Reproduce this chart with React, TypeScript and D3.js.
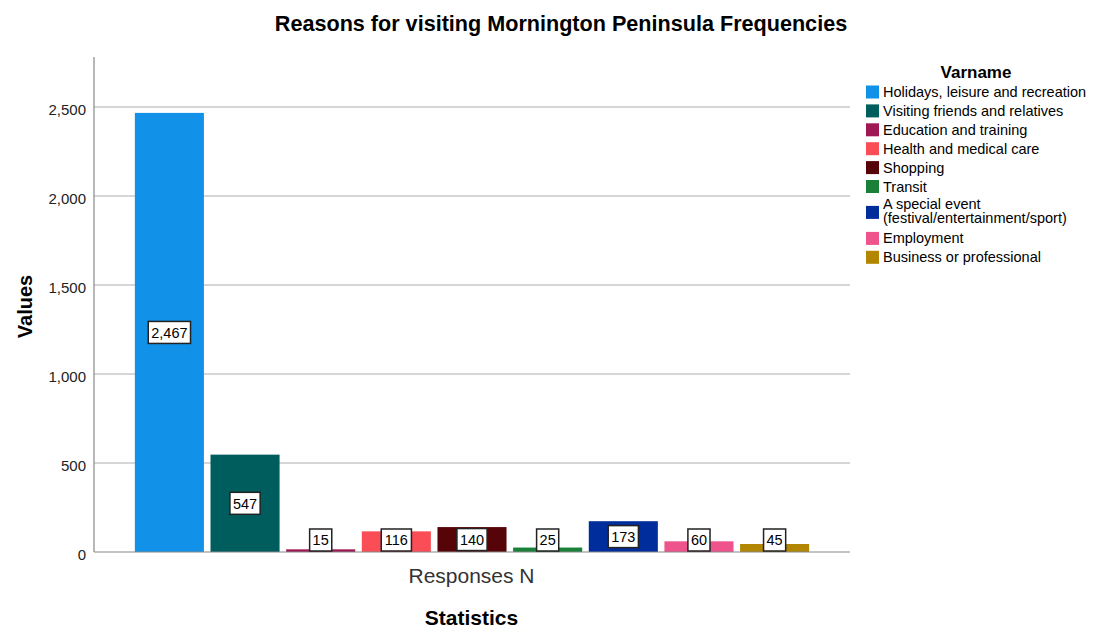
import React from "react";
import * as d3 from "d3";

const categories = [
  "Holidays, leisure and recreation",
  "Visiting friends and relatives",
  "Education and training",
  "Health and medical care",
  "Shopping",
  "Transit",
  "A special event (festival/entertainment/sport)",
  "Employment",
  "Business or professional",
];
const legendLines = [
  ["Holidays, leisure and recreation"],
  ["Visiting friends and relatives"],
  ["Education and training"],
  ["Health and medical care"],
  ["Shopping"],
  ["Transit"],
  ["A special event", "(festival/entertainment/sport)"],
  ["Employment"],
  ["Business or professional"],
];
const values = [2467, 547, 15, 116, 140, 25, 173, 60, 45];
const colors = ["#1192e8", "#005d5d", "#9f1853", "#fa4d56", "#570408", "#198038", "#002d9c", "#ee538b", "#b28600"];
const yTicks = [0, 500, 1000, 1500, 2000, 2500];

const FONT = "'Liberation Sans', Arial, sans-serif";

export default function App() {
  const W = 1094, H = 630;
  const left = 94, right = 850, top = 57, bottom = 552;
  const y = d3.scaleLinear().domain([0, 2781]).range([bottom, top]);
  const x = d3.scaleBand<string>().domain(categories).range([left, right]).paddingInner(0.087).paddingOuter(0.54);
  const fmt = d3.format(",");

  const rowCenters: number[] = [];
  let ly = 92;
  legendLines.forEach((lines) => {
    rowCenters.push(ly);
    ly += lines.length === 1 ? 18.9 : 33;
  });

  const textW = (s: string) => s.split("").reduce((a, ch) => a + (ch === "," ? 4.03 : 8.06), 0);

  return (
    <svg width={W} height={H} style={{ position: "absolute", left: 0, top: 0, fontFamily: FONT }}>
      <rect x={0} y={0} width={W} height={H} fill="#fff" />
      <text x={561} y={31} textAnchor="middle" fontSize={21.6} fontWeight="bold" fill="#000">
        Reasons for visiting Mornington Peninsula Frequencies
      </text>
      {yTicks.map((t) => (
        <g key={t}>
          {t > 0 && <line x1={left} x2={right} y1={y(t)} y2={y(t)} stroke="#c8c8c8" strokeWidth={1.5} />}
          <text x={86} y={y(t) + 8} textAnchor="end" fontSize={15} fill="#222">
            {fmt(t)}
          </text>
        </g>
      ))}
      {categories.map((c, i) => (
        <rect key={c} x={x(c)} y={y(values[i])} width={x.bandwidth()} height={bottom - y(values[i])} fill={colors[i]} />
      ))}
      <line x1={left} x2={left} y1={top} y2={bottom} stroke="#888" strokeWidth={1.2} />
      <line x1={left} x2={right} y1={bottom} y2={bottom} stroke="#888" strokeWidth={1.2} />
      {categories.map((c, i) => {
        const cx = (x(c) as number) + x.bandwidth() / 2;
        const cy = Math.min(y(values[i] / 2), bottom - 12);
        const label = fmt(values[i]);
        const w = textW(label) + 6;
        return (
          <g key={"l" + c}>
            <rect x={cx - w / 2} y={cy - 11} width={w} height={22} fill="#fff" stroke="#222" strokeWidth={1.5} />
            <text x={cx} y={cy + 5.2} textAnchor="middle" fontSize={14.5} fill="#000">
              {label}
            </text>
          </g>
        );
      })}
      <text x={471.5} y={583} textAnchor="middle" fontSize={21} fill="#333">
        Responses N
      </text>
      <text x={471.5} y={625} textAnchor="middle" fontSize={21} fontWeight="bold" fill="#000">
        Statistics
      </text>
      <text transform={`translate(32, ${(top + bottom) / 2 + 2}) rotate(-90)`} textAnchor="middle" fontSize={20} fontWeight="bold" fill="#000">
        Values
      </text>
      <text x={976} y={78} textAnchor="middle" fontSize={17} fontWeight="bold" fill="#000">
        Varname
      </text>
      {legendLines.map((lines, i) => {
        const rc = rowCenters[i];
        const cy = lines.length === 1 ? rc : rc + 7;
        return (
          <g key={"lg" + i}>
            <rect x={866} y={cy - 6.5} width={13} height={13} fill={colors[i]} />
            {lines.map((t, j) => (
              <text key={j} x={883} y={rc + (lines.length === 1 ? 5 : 3.5) + j * 14.5} fontSize={14.5} fill="#000">
                {t}
              </text>
            ))}
          </g>
        );
      })}
    </svg>
  );
}
